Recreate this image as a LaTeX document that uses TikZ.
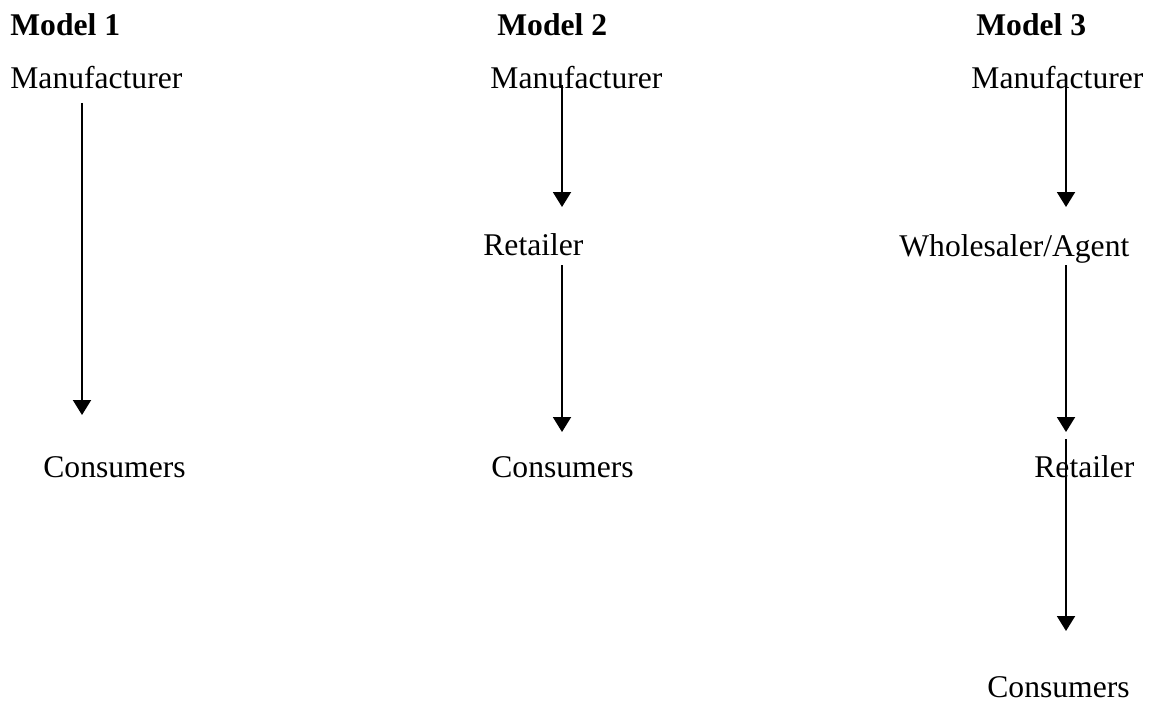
\documentclass[tikz,border=0pt]{standalone}
\usepackage{fontspec}
\setmainfont{Liberation Serif}
\usetikzlibrary{arrows.meta,calc}
\tikzset{
  lab/.style={anchor=base west, inner sep=0pt, font=\fontsize{15.8pt}{19pt}\selectfont},
  head/.style={lab, font=\fontsize{15.8pt}{19pt}\selectfont\bfseries},
  arr/.style={-{Triangle[length=7.5pt,width=9pt]}, line width=1pt},
}

\begin{document}
\begin{tikzpicture}[x=0.5pt, y=-0.5pt]
  \useasboundingbox (0,0) rectangle (1149,701);
  % arrow lines of the three columns
  \coordinate (col1) at (82,0);
  \coordinate (col2) at (562,0);
  \coordinate (col3) at (1066,0);

  % model 1
  \node[head] (mod1) at (10,36) {Model 1};
  \node[lab] (man1) at (10,89) {Manufacturer};
  \node[lab] (con1) at (43,477) {Consumers};

  % model 2
  \node[head] (mod2) at (497,36) {Model 2};
  \node[lab] (man2) at (490,89) {Manufacturer};
  \node[lab] (ret2) at (483,255) {Retailer};
  \node[lab] (con2) at (491,477) {Consumers};

  % model 3
  \node[head] (mod3) at (976,36) {Model 3};
  \node[lab] (man3) at (971,89) {Manufacturer};
  \node[lab] (whl3) at (899,256) {Wholesaler/Agent};
  \node[lab] (ret3) at (1034,477) {Retailer};
  \node[lab] (con3) at (987,697) {Consumers};

  \draw[arr] ($(man1.base -| col1)+(0,14)$) -- ($(con1.base -| col1)+(0,-62)$);
  \draw[arr] ($(man2.base -| col2)+(0,-4)$) -- ($(ret2.base -| col2)+(0,-48)$);
  \draw[arr] ($(ret2.base -| col2)+(0,10)$) -- ($(con2.base -| col2)+(0,-45)$);
  \draw[arr] ($(man3.base -| col3)+(0,-2)$) -- ($(whl3.base -| col3)+(0,-49)$);
  \draw[arr] ($(whl3.base -| col3)+(0,9)$) -- ($(ret3.base -| col3)+(0,-45)$);
  \draw[arr] ($(ret3.base -| col3)+(0,-38)$) -- ($(con3.base -| col3)+(0,-66)$);
\end{tikzpicture}
\end{document}
